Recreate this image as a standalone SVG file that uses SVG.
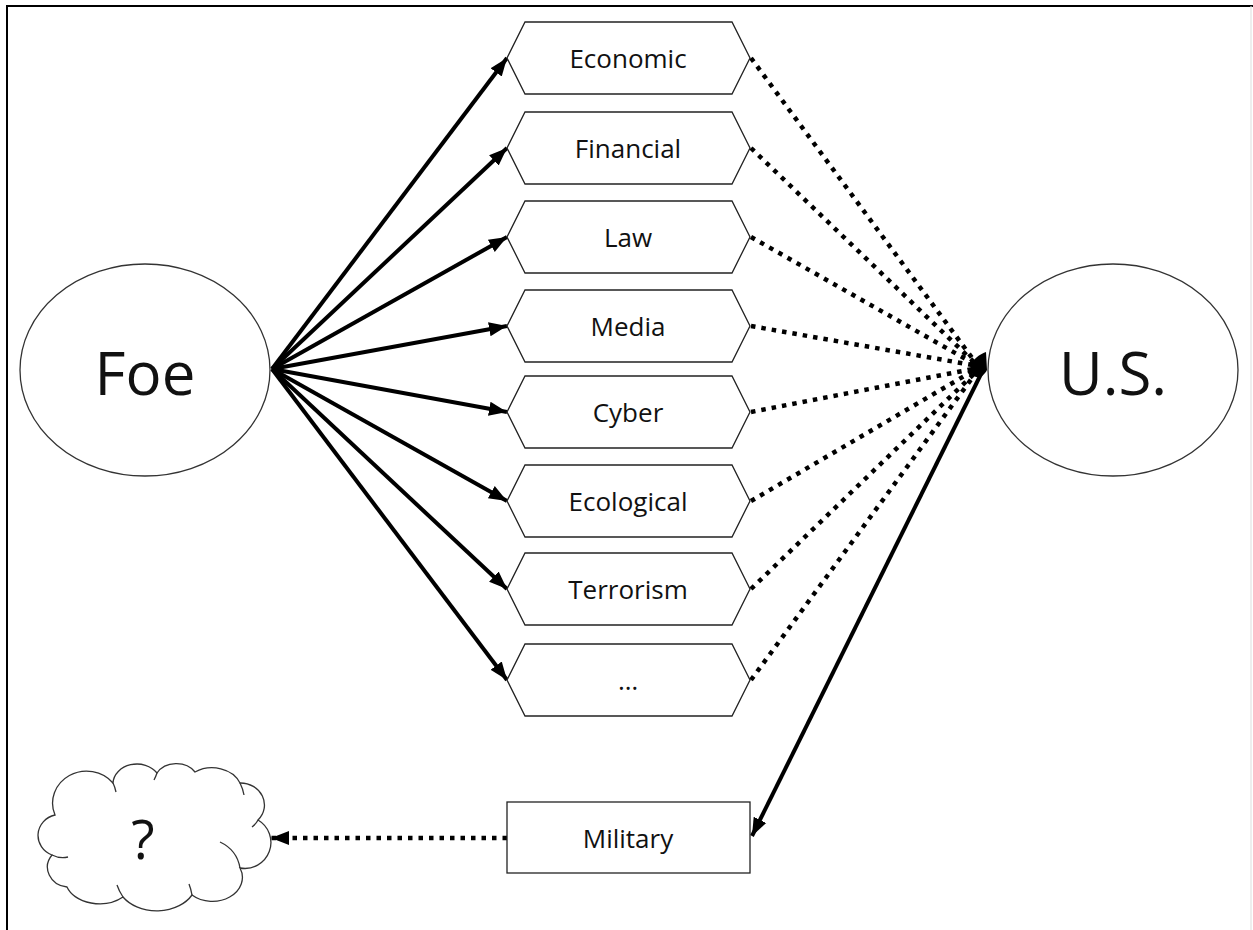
<svg xmlns="http://www.w3.org/2000/svg" width="1253" height="930" viewBox="0 0 1253 930">
<defs>
<style>
.hex{fill:#fff;stroke:#222;stroke-width:1.3}
.lbl{font-family:"Open Sans","Noto Sans",sans-serif;font-size:26px;fill:#111;text-anchor:middle;dominant-baseline:central}
.big{font-family:"Open Sans","Noto Sans",sans-serif;font-size:60px;fill:#111;text-anchor:middle;dominant-baseline:central}
.solid{stroke:#000;stroke-width:4;fill:none}
.dot{stroke:#000;stroke-width:4.5;fill:none;stroke-dasharray:4.5 6}
</style>
<marker id="ah" markerUnits="userSpaceOnUse" markerWidth="22" markerHeight="18" refX="18" refY="9" orient="auto">
<path d="M0,2 L18,9 L0,16 Z" fill="#000"/>
</marker>
</defs>
<rect x="0" y="0" width="1253" height="930" fill="#fff"/>
<path d="M7,930 V6 H1253" fill="none" stroke="#000" stroke-width="2"/>
<line x1="1251" y1="6" x2="1251" y2="930" stroke="#ddd" stroke-width="1"/>

<g id="connectors">
<line class="solid" x1="272" y1="369" x2="507" y2="58" marker-end="url(#ah)"/>
<line class="solid" x1="272" y1="369" x2="507" y2="148" marker-end="url(#ah)"/>
<line class="solid" x1="272" y1="369" x2="507" y2="237" marker-end="url(#ah)"/>
<line class="solid" x1="272" y1="369" x2="507" y2="326" marker-end="url(#ah)"/>
<line class="solid" x1="272" y1="369" x2="507" y2="412" marker-end="url(#ah)"/>
<line class="solid" x1="272" y1="369" x2="507" y2="501" marker-end="url(#ah)"/>
<line class="solid" x1="272" y1="369" x2="507" y2="589" marker-end="url(#ah)"/>
<line class="solid" x1="272" y1="369" x2="507" y2="680" marker-end="url(#ah)"/>
<line class="dot" x1="751" y1="58" x2="978" y2="366"/>
<line class="dot" x1="751" y1="148" x2="978" y2="366"/>
<line class="dot" x1="751" y1="237" x2="978" y2="366"/>
<line class="dot" x1="751" y1="326" x2="978" y2="366"/>
<line class="dot" x1="751" y1="412" x2="978" y2="368"/>
<line class="dot" x1="751" y1="501" x2="978" y2="368"/>
<line class="dot" x1="751" y1="589" x2="978" y2="370"/>
<line class="dot" x1="751" y1="680" x2="978" y2="370"/>
<path d="M986,352 C975,356 968,365 972,373 C975,380 983,378 987,370 Z" fill="#000"/>
<line class="solid" x1="984" y1="368" x2="752" y2="836" marker-end="url(#ah)"/>
<line class="dot" x1="507" y1="838" x2="271" y2="838" marker-end="url(#ah)"/>
</g>

<g id="foe">
<ellipse cx="145" cy="370" rx="125" ry="106" fill="#fff" stroke="#333" stroke-width="1.3"/>
<text class="big" x="145" y="372">Foe</text>
</g>
<g id="us">
<ellipse cx="1113" cy="370" rx="125" ry="106" fill="#fff" stroke="#333" stroke-width="1.3"/>
<text class="big" x="1113" y="372">U.S.</text>
</g>

<g id="economic"><path class="hex" d="M507,58 L525,22 H732 L750,58 L732,94 H525 Z"/><text class="lbl" x="628" y="58">Economic</text></g>
<g id="financial"><path class="hex" d="M507,148 L525,112 H732 L750,148 L732,184 H525 Z"/><text class="lbl" x="628" y="148">Financial</text></g>
<g id="law"><path class="hex" d="M507,237 L525,201 H732 L750,237 L732,273 H525 Z"/><text class="lbl" x="628" y="237">Law</text></g>
<g id="media"><path class="hex" d="M507,326 L525,290 H732 L750,326 L732,362 H525 Z"/><text class="lbl" x="628" y="326">Media</text></g>
<g id="cyber"><path class="hex" d="M507,412 L525,376 H732 L750,412 L732,448 H525 Z"/><text class="lbl" x="628" y="412">Cyber</text></g>
<g id="ecological"><path class="hex" d="M507,501 L525,465 H732 L750,501 L732,537 H525 Z"/><text class="lbl" x="628" y="501">Ecological</text></g>
<g id="terrorism"><path class="hex" d="M507,589 L525,553 H732 L750,589 L732,625 H525 Z"/><text class="lbl" x="628" y="589">Terrorism</text></g>
<g id="more"><path class="hex" d="M507,680 L525,644 H732 L750,680 L732,716 H525 Z"/><text class="lbl" x="628" y="680">…</text></g>

<g id="military">
<rect x="507" y="802" width="243" height="71" fill="#fff" stroke="#222" stroke-width="1.3"/>
<text class="lbl" x="628" y="838">Military</text>
</g>

<g id="cloud">
<path d="M52,855 A22,21 0 0 1 55,815 A34,32 0 0 1 113,783 A24,20 0 0 1 157,773 A22,18 0 0 1 195,772 A30,24 0 0 1 240,783 A24,22 0 0 1 258,820 A26,26 0 0 1 240,868 A30,24 0 0 1 192,895 A40,30 0 0 1 123,897 A34,24 0 0 1 67,887 A22,20 0 0 1 52,855 Z" fill="#fff" stroke="#333" stroke-width="1.3"/>
<path d="M52,855 q8,4 16,2 M113,783 q2,4 3,9 M157,773 q-1,3 -3,7 M240,783 q3,6 4,12 M258,820 q-2,4 -6,7 M240,868 q-3,-18 -20,-26 M192,895 q-1,-6 -3,-11 M123,897 q-4,-6 -6,-12" fill="none" stroke="#333" stroke-width="1.3"/>
<text class="big" x="143" y="838" style="font-size:54px">?</text>
</g>
</svg>
